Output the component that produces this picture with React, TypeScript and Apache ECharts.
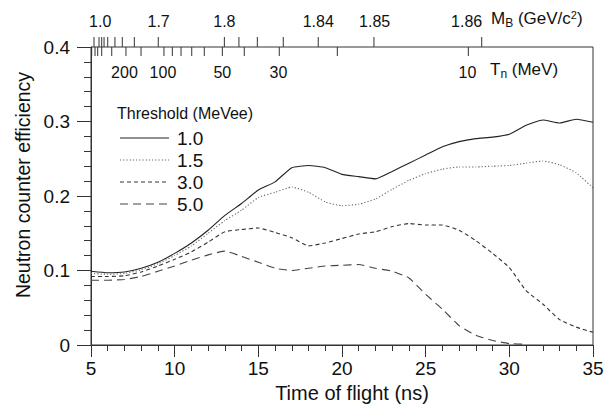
import React, { useEffect, useRef } from "react";
import * as echarts from "echarts";

// Time of flight (ns) sample points
const X_TOF = [5, 6, 7, 8, 9, 10, 11, 12, 13, 14, 15, 16, 17, 18, 19, 20, 21, 22, 23, 24, 25, 26, 27, 28, 29, 30, 31, 32, 33, 34, 35];
const X_TOF_50 = [5, 6, 7, 8, 9, 10, 11, 12, 13, 14, 15, 16, 17, 18, 19, 20, 21, 22, 23, 24, 25, 26, 27, 28, 29, 30, 31];

// Neutron counter efficiency per threshold (MeVee)
const EFF_10 = [0.099, 0.097, 0.098, 0.103, 0.111, 0.123, 0.137, 0.154, 0.174, 0.19, 0.208, 0.219, 0.238, 0.241, 0.238, 0.229, 0.226, 0.223, 0.233, 0.244, 0.255, 0.266, 0.273, 0.277, 0.279, 0.283, 0.295, 0.302, 0.298, 0.303, 0.299];
const EFF_15 = [0.096, 0.095, 0.096, 0.101, 0.109, 0.12, 0.133, 0.15, 0.167, 0.181, 0.198, 0.205, 0.212, 0.205, 0.192, 0.187, 0.189, 0.196, 0.209, 0.221, 0.23, 0.236, 0.239, 0.239, 0.24, 0.241, 0.244, 0.247, 0.242, 0.231, 0.211];
const EFF_30 = [0.092, 0.092, 0.093, 0.098, 0.106, 0.115, 0.125, 0.138, 0.152, 0.155, 0.157, 0.151, 0.144, 0.133, 0.137, 0.143, 0.149, 0.152, 0.159, 0.163, 0.161, 0.161, 0.154, 0.14, 0.123, 0.104, 0.073, 0.055, 0.034, 0.024, 0.017];
const EFF_50 = [0.087, 0.087, 0.088, 0.092, 0.099, 0.106, 0.114, 0.121, 0.126, 0.119, 0.111, 0.103, 0.1, 0.103, 0.106, 0.107, 0.108, 0.103, 0.099, 0.09, 0.068, 0.048, 0.026, 0.013, 0.006, 0.002, 0.001];

const SERIES_NAMES = ["1.0", "1.5", "3.0", "5.0"];
const LEGEND_TITLE = "Threshold (MeVee)";

// Top axis: baryon mass M_B (GeV/c^2) ticks, placed at their time of flight (ns)
const MB_TICKS = [5.18, 5.48, 5.64, 5.78, 6.0, 6.43, 6.87, 7.59, 9.02, 12.97, 13.84, 14.94, 16.49, 18.58, 21.91, 28.35];
const MB_LABEL_POS = [5.55, 9.04, 12.97, 18.58, 21.95, 27.45];
const MB_LABELS = ["1.0", "1.7", "1.8", "1.84", "1.85", "1.86"];

// Top axis: neutron kinetic energy T_n (MeV) ticks, placed at their time of flight (ns)
const TN_TICKS = [5.04, 5.24, 5.4, 5.64, 6.24, 7.09, 7.99, 9.36, 9.86, 10.38, 11.02, 11.77, 12.85, 14.16, 16.25, 19.72, 27.55];
const TN_LABEL_POS = [7.0, 9.3, 12.85, 16.2, 27.5];
const TN_LABELS = ["200", "100", "50", "30", "10"];

const Y_TICKS_MAX = 0.4;

const FONT = "'Liberation Sans', Arial, Helvetica, sans-serif";
const TEXT = "#111";
const LINE = "#333";

const COLORS = ["#222", "#666", "#333", "#444"];
const DASHES: any[] = ["solid", [1.2, 2], [4, 3], [8, 5]];

export default function App() {
  const ref = useRef<HTMLDivElement>(null);

  useEffect(() => {
    if (!ref.current) return;
    const chart = echarts.init(ref.current, undefined, { renderer: "svg" });

    const mkLine = (idx: number, xs: number[], ys: number[]) => ({
      name: SERIES_NAMES[idx],
      type: "line",
      data: xs.map((x, i) => [x, ys[i]]),
      showSymbol: false,
      symbol: "none",
      smooth: 0.15,
      lineStyle: { color: COLORS[idx], width: 1.1, type: DASHES[idx] },
      itemStyle: { color: COLORS[idx] },
      z: 3,
    });

    const tickSeries = (ticks: number[], dir: number, len: number) => ({
      type: "custom",
      silent: true,
      clip: false,
      data: ticks.map((t) => [t, Y_TICKS_MAX]),
      renderItem: (_params: any, api: any) => {
        const p = api.coord([api.value(0), api.value(1)]);
        return {
          type: "line",
          shape: { x1: p[0], y1: p[1], x2: p[0], y2: p[1] + dir * len },
          style: { stroke: LINE, lineWidth: 1 },
        };
      },
      z: 4,
    });

    const labelSeries = (pos: number[], labels: string[], dy: number) => ({
      type: "custom",
      silent: true,
      clip: false,
      data: pos.map((t) => [t, Y_TICKS_MAX]),
      renderItem: (params: any, api: any) => {
        const p = api.coord([api.value(0), api.value(1)]);
        return {
          type: "text",
          x: p[0],
          y: p[1] + dy,
          style: {
            text: labels[params.dataIndex],
            fontSize: 16,
            fontFamily: FONT,
            fill: TEXT,
            align: "center",
            verticalAlign: "middle",
          },
        };
      },
      z: 4,
    });

    // Legend drawn as graphic lines and texts
    const legendGraphics: any[] = [
      {
        type: "text",
        left: 117,
        top: 105,
        style: { text: LEGEND_TITLE, fontSize: 16, fontFamily: FONT, fill: TEXT },
      },
    ];
    SERIES_NAMES.forEach((name, i) => {
      const cy = 138 + i * 22;
      const dash = DASHES[i];
      legendGraphics.push({
        type: "line",
        shape: { x1: 120, y1: cy, x2: 169, y2: cy },
        style: {
          stroke: COLORS[i],
          lineWidth: 1.1,
          lineDash: dash === "solid" ? null : dash,
        },
      });
      legendGraphics.push({
        type: "text",
        x: 177,
        y: cy,
        style: { text: name, fontSize: 19, fontFamily: FONT, fill: TEXT, verticalAlign: "middle" },
      });
    });

    chart.setOption({
      animation: false,
      backgroundColor: "#fff",
      grid: {
        left: 91,
        right: 15,
        top: 47,
        bottom: 58,
        show: true,
        borderColor: LINE,
        borderWidth: 1,
        containLabel: false,
      },
      xAxis: {
        type: "value",
        min: 5,
        max: 35,
        interval: 5,
        name: "Time of flight (ns)",
        nameLocation: "middle",
        nameGap: 38,
        nameTextStyle: { fontSize: 20, fontFamily: FONT, color: TEXT, padding: [0, 0, 0, 20] },
        axisLine: { show: true, lineStyle: { color: LINE } },
        axisTick: { show: true, length: 12, lineStyle: { color: LINE } },
        minorTick: { show: true, splitNumber: 5, length: 6, lineStyle: { color: LINE } },
        axisLabel: { fontSize: 19, fontFamily: FONT, color: TEXT, margin: 14 },
        splitLine: { show: false },
      },
      yAxis: {
        type: "value",
        min: 0,
        max: 0.4,
        interval: 0.1,
        name: "Neutron counter efficiency",
        nameLocation: "middle",
        nameGap: 57,
        nameTextStyle: { fontSize: 19.5, fontFamily: FONT, color: TEXT, padding: [0, 0, 0, 22] },
        axisLine: { show: true, lineStyle: { color: LINE } },
        axisTick: { show: true, length: 14, lineStyle: { color: LINE } },
        minorTick: { show: true, splitNumber: 5, length: 7, lineStyle: { color: LINE } },
        axisLabel: {
          fontSize: 19,
          fontFamily: FONT,
          color: TEXT,
          margin: 21,
          formatter: (v: number) => (v === 0 ? "0" : v.toFixed(1)),
        },
        splitLine: { show: false },
      },
      graphic: [
        ...legendGraphics,
        {
          type: "text",
          left: 491,
          top: 9,
          style: {
            text: "{a|M}{b|B}{a| (GeV/c}{c|2}{a|)}",
            fontFamily: FONT,
            fill: TEXT,
            rich: {
              a: { fontSize: 17, fontFamily: FONT, fill: TEXT },
              b: { fontSize: 12, fontFamily: FONT, fill: TEXT, padding: [8, 0, 0, 0] },
              c: { fontSize: 11, fontFamily: FONT, fill: TEXT, padding: [0, 0, 8, 0] },
            },
          },
        },
        {
          type: "text",
          left: 490,
          top: 61,
          style: {
            text: "{a|T}{b|n}{a| (MeV)}",
            fontFamily: FONT,
            fill: TEXT,
            rich: {
              a: { fontSize: 17, fontFamily: FONT, fill: TEXT },
              b: { fontSize: 12, fontFamily: FONT, fill: TEXT, padding: [8, 0, 0, 0] },
            },
          },
        },
      ],
      series: [
        mkLine(0, X_TOF, EFF_10),
        mkLine(1, X_TOF, EFF_15),
        mkLine(2, X_TOF, EFF_30),
        mkLine(3, X_TOF_50, EFF_50),
        tickSeries(MB_TICKS, -1, 10),
        tickSeries(TN_TICKS, 1, 9),
        labelSeries(MB_LABEL_POS, MB_LABELS, -26),
        labelSeries(TN_LABEL_POS, TN_LABELS, 25),
      ],
    });

    return () => chart.dispose();
  }, []);

  return (
    <div
      ref={ref}
      style={{ position: "fixed", left: 0, top: 0, width: 608, height: 408 }}
    />
  );
}
